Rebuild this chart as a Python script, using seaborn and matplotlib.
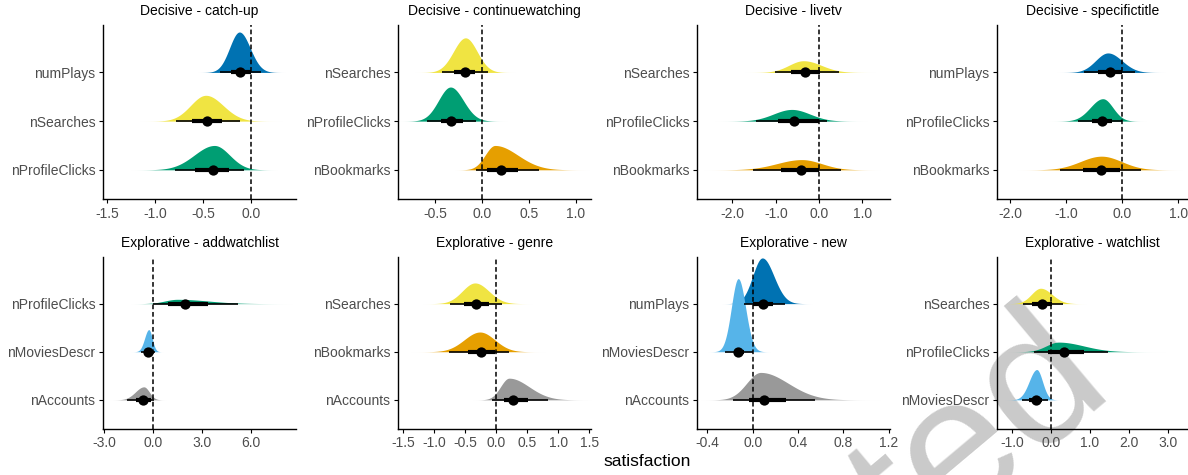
import numpy as np
import pandas as pd
import matplotlib
matplotlib.use("Agg")
import matplotlib.pyplot as plt
import seaborn as sns

# -----------------------------
# Data
# -----------------------------
titles = ["Decisive - catch-up", "Decisive - continuewatching",
          "Decisive - livetv", "Decisive - specifictitle",
          "Explorative - addwatchlist", "Explorative - genre",
          "Explorative - new", "Explorative - watchlist"]

variables = [["numPlays", "nSearches", "nProfileClicks"],
             ["nSearches", "nProfileClicks", "nBookmarks"],
             ["nSearches", "nProfileClicks", "nBookmarks"],
             ["numPlays", "nProfileClicks", "nBookmarks"],
             ["nProfileClicks", "nMoviesDescr", "nAccounts"],
             ["nSearches", "nBookmarks", "nAccounts"],
             ["numPlays", "nMoviesDescr", "nAccounts"],
             ["nSearches", "nProfileClicks", "nMoviesDescr"]]

# peak of each posterior slab
modes = [[-0.12, -0.47, -0.38],
         [-0.18, -0.34, 0.135],
         [-0.36, -0.63, -0.40],
         [-0.26, -0.35, -0.375],
         [1.5, -0.25, -0.55],
         [-0.34, -0.26, 0.21],
         [0.085, -0.127, 0.07],
         [-0.26, 0.2, -0.36]]

medians = [[-0.115, -0.455, -0.39],
           [-0.185, -0.33, 0.20],
           [-0.32, -0.58, -0.42],
           [-0.23, -0.36, -0.375],
           [1.95, -0.28, -0.61],
           [-0.32, -0.24, 0.28],
           [0.088, -0.127, 0.10],
           [-0.215, 0.34, -0.385]]

lo95 = [[-0.32, -0.78, -0.79],
        [-0.43, -0.59, -0.07],
        [-1.02, -1.46, -1.52],
        [-0.69, -0.79, -1.11],
        [0.0, -0.75, -1.56],
        [-0.74, -0.755, -0.06],
        [-0.08, -0.245, -0.17],
        [-0.72, -0.42, -0.74]]

lo66 = [[-0.21, -0.61, -0.58],
        [-0.30, -0.44, 0.05],
        [-0.65, -0.96, -0.88],
        [-0.44, -0.55, -0.71],
        [0.94, -0.50, -1.05],
        [-0.51, -0.46, 0.12],
        [0.0, -0.165, -0.03],
        [-0.49, -0.06, -0.57]]

hi66 = [[0.0, -0.30, -0.23],
        [-0.08, -0.21, 0.38],
        [0.02, 0.0, 0.0],
        [0.0, -0.18, -0.05],
        [3.38, -0.05, -0.14],
        [-0.12, -0.02, 0.52],
        [0.18, -0.077, 0.29],
        [0.03, 0.85, -0.215]]

hi95 = [[0.10, -0.115, -0.07],
        [0.064, -0.07, 0.61],
        [0.45, 0.19, 0.50],
        [0.23, 0.0, 0.33],
        [5.18, 0.16, 0.10],
        [0.10, 0.21, 0.84],
        [0.285, 0.0, 0.545],
        [0.31, 1.46, -0.07]]

# slab peak height, in units of category spacing
heights = [[0.83, 0.53, 0.50],
           [0.71, 0.70, 0.50],
           [0.24, 0.24, 0.21],
           [0.40, 0.46, 0.28],
           [0.09, 0.46, 0.27],
           [0.43, 0.41, 0.45],
           [0.95, 1.52, 0.57],
           [0.32, 0.20, 0.63]]

xlims = [(-1.54, 0.47), (-0.90, 1.16), (-2.82, 1.64), (-2.24, 1.17),
         (-3.05, 8.76), (-1.58, 1.53), (-0.49, 1.21), (-1.38, 3.52)]

xticks = [[-1.5, -1.0, -0.5, 0.0],
          [-0.5, 0.0, 0.5, 1.0],
          [-2.0, -1.0, 0.0, 1.0],
          [-2.0, -1.0, 0.0, 1.0],
          [-3.0, 0.0, 3.0, 6.0],
          [-1.5, -1.0, -0.5, 0.0, 0.5, 1.0, 1.5],
          [-0.4, 0.0, 0.4, 0.8, 1.2],
          [-1.0, 0.0, 1.0, 2.0, 3.0]]

palette = {"numPlays": "#0072B2", "nSearches": "#F0E442",
           "nProfileClicks": "#009E73", "nBookmarks": "#E69F00",
           "nMoviesDescr": "#56B4E9", "nAccounts": "#999999"}

# long table built from the lists above
rows = []
for p, title in enumerate(titles):
    for i, var in enumerate(variables[p]):
        rows.append(dict(panel=title, var=var, pos=i, mode=modes[p][i],
                         median=medians[p][i], lo95=lo95[p][i], lo66=lo66[p][i],
                         hi66=hi66[p][i], hi95=hi95[p][i], height=heights[p][i]))
df = pd.DataFrame(rows)

# -----------------------------
# Style
# -----------------------------
sns.set_theme(style="ticks")
plt.rcParams["font.family"] = ["Liberation Sans", "DejaVu Sans"]
plt.rcParams["axes.unicode_minus"] = False

fig = plt.figure(figsize=(11.88, 4.75), dpi=100)

# watermark sits underneath the panels
fig.text(912 / 1188, 1 - 562 / 475, "ted", rotation=40, rotation_mode="anchor",
         ha="left", va="baseline", fontsize=138, color="#CACACA", zorder=-1)

lefts = [0.0867, 0.335, 0.5867, 0.8392]
widths = [0.1625, 0.1625, 0.1625, 0.1608]
bottoms = [0.581, 0.0975]
hts = [0.366, 0.3615]

for p, title in enumerate(titles):
    r, c = divmod(p, 4)
    ax = fig.add_axes([lefts[c], bottoms[r], widths[c], hts[r]])
    ax.patch.set_visible(False)
    sub = df[df["panel"] == title]

    # slabs (half eye densities)
    for _, row in sub.iterrows():
        sl = (row["mode"] - row["lo95"]) / 1.96
        sr = (row["hi95"] - row["mode"]) / 1.96
        xs = np.linspace(row["mode"] - 4.5 * sl, row["mode"] + 4.5 * sr, 400)
        sd = np.where(xs < row["mode"], sl, sr)
        dens = row["height"] * np.exp(-0.5 * ((xs - row["mode"]) / sd) ** 2)
        ax.fill_between(xs, row["pos"], row["pos"] - dens,
                        color=palette[row["var"]], lw=0, zorder=1)

    ax.axvline(0, color="black", lw=1.1, ls=(0, (3.1, 1.8)), zorder=2)

    # intervals
    ax.hlines(sub["pos"], sub["lo95"], sub["hi95"], color="black", lw=1.2, zorder=3)
    ax.hlines(sub["pos"], sub["lo66"], sub["hi66"], color="black", lw=3.0, zorder=4)
    sns.scatterplot(data=sub, x="median", y="pos", ax=ax, color="black",
                    s=55, edgecolor="black", linewidth=0, zorder=5, legend=False)

    ax.set_xlim(*xlims[p])
    ax.set_ylim(2.6, -0.97)
    ax.set_xticks(xticks[p])
    ax.set_xticklabels([f"{t:.1f}" for t in xticks[p]])
    ax.set_yticks([0, 1, 2])
    ax.set_yticklabels(variables[p])
    ax.set_xlabel("")
    ax.set_ylabel("")
    ax.set_title(title, fontsize=10, color="black", pad=7)

    for side in ["top", "right"]:
        ax.spines[side].set_visible(False)
    for side in ["left", "bottom"]:
        ax.spines[side].set_color("black")
        ax.spines[side].set_linewidth(1.0)
    ax.tick_params(axis="both", labelsize=10, labelcolor="#4D4D4D",
                   color="black", length=3, width=0.8, pad=2.5)

fig.text(647 / 1188, 0.028, "satisfaction", ha="center", va="center",
         fontsize=12.5, color="black")

plt.savefig("out.png", dpi=100)
plt.close()
